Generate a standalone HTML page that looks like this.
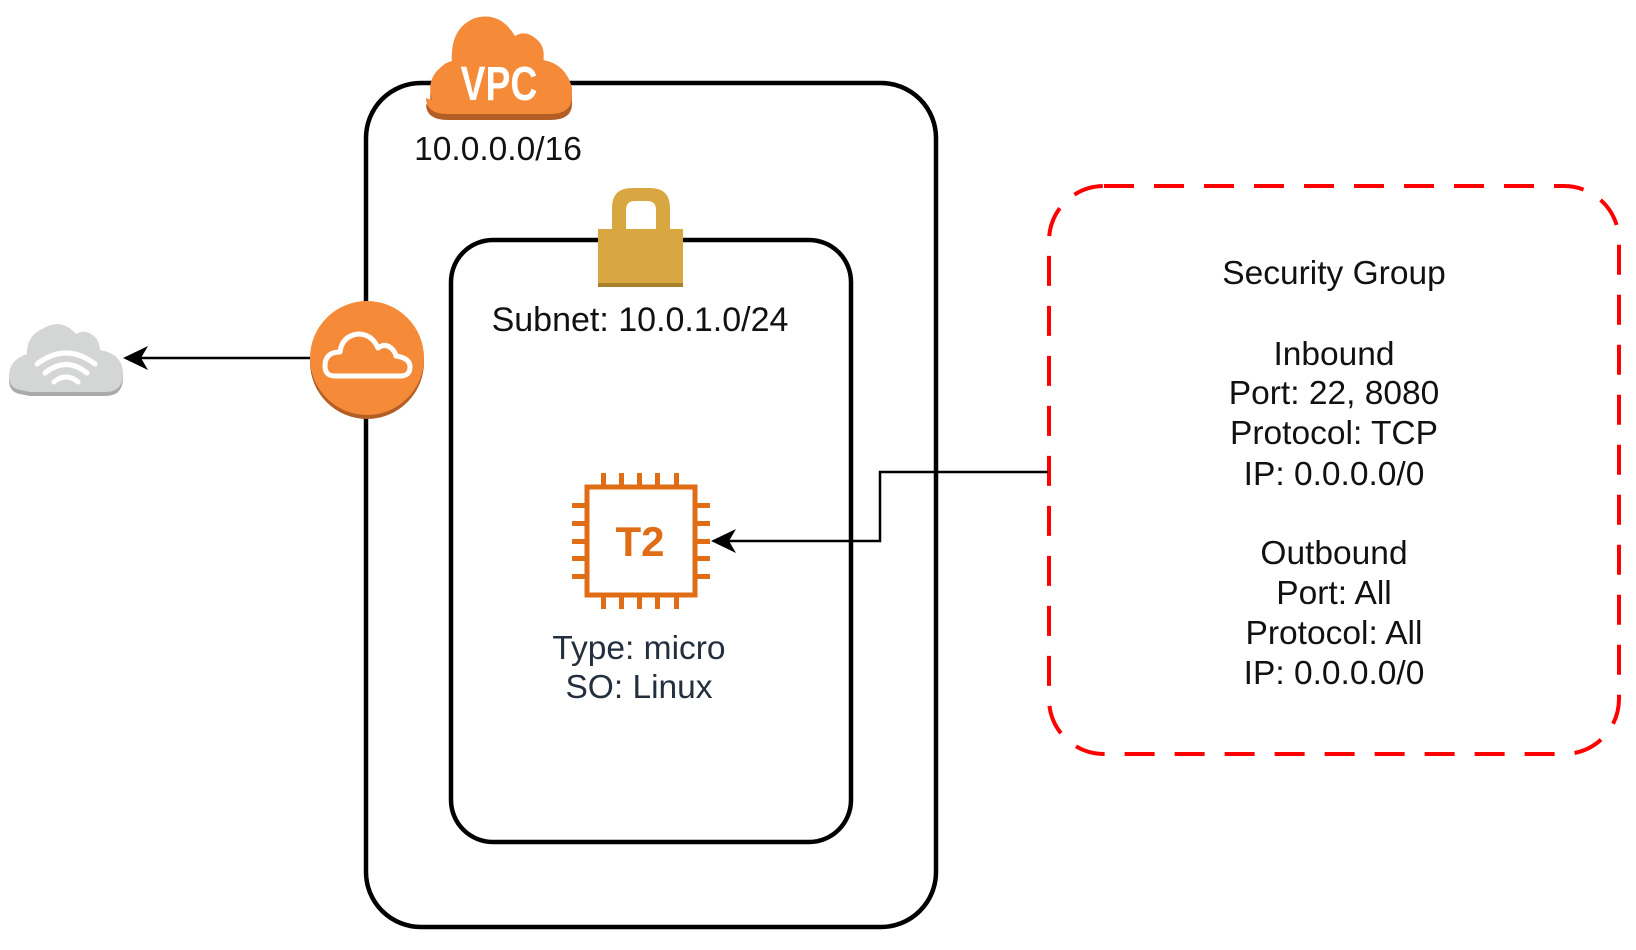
<!DOCTYPE html>
<html><head><meta charset="utf-8"><style>
html,body{margin:0;padding:0;background:#fff;}
svg{display:block;}
text{font-family:"Liberation Sans",Arial,sans-serif;}
</style></head><body>
<svg width="1636" height="950" viewBox="0 0 1636 950" xmlns="http://www.w3.org/2000/svg">
<!-- VPC box -->
<rect x="366" y="83" width="570" height="844" rx="55" fill="none" stroke="#000" stroke-width="4.5"/>
<!-- Subnet box -->
<rect x="451" y="240" width="400" height="602" rx="42" fill="none" stroke="#000" stroke-width="4.5"/>
<!-- Security group -->
<rect x="1049" y="186" width="570" height="568" rx="55" fill="none" stroke="#f00" stroke-width="4" stroke-dasharray="30,20"/>

<!-- VPC cloud -->
<g>
<path d="M432,108 Q426,84 440,72 Q446,64 452,63 Q450,30 475,20 Q500,13 515,38 Q525,32 535,40 Q546,48 543,62 Q566,66 572,92 L572,104 Q572,120 550,120 L448,120 Q426,120 426,104 Z" fill="#b35e24"/>
<path d="M432,100 Q426,80 440,68 Q446,62 452,61 Q450,28 475,18 Q500,11 515,36 Q525,30 535,38 Q546,46 543,60 Q566,64 572,88 L572,96 Q572,114 550,114 L448,114 Q426,114 426,98 Z" fill="#f58a38"/>
<text x="499" y="100" text-anchor="middle" font-size="48" font-weight="bold" fill="#fff" transform="translate(499 0) scale(0.78 1) translate(-499 0)">VPC</text>
</g>
<text x="498" y="160" text-anchor="middle" font-size="33.5" fill="#111">10.0.0.0/16</text>

<!-- Lock -->
<path d="M612,229 L612,208 Q612,188 632,188 L650,188 Q670,188 670,208 L670,229 L656,229 L656,210 Q656,201 647,201 L635,201 Q626,201 626,210 L626,229 Z" fill="#d9a741"/>
<rect x="598" y="229" width="85" height="55" fill="#d9a741"/>
<rect x="598" y="283" width="85" height="4" fill="#a9802c"/>
<text x="640" y="331" text-anchor="middle" font-size="34" fill="#111">Subnet: 10.0.1.0/24</text>

<!-- Gateway -->
<circle cx="367" cy="362" r="57" fill="#b35e24"/>
<circle cx="367" cy="358" r="57" fill="#f58a38"/>
<path d="M335,376 Q325,376 325,366 Q325,352 340,352 Q342,336 358,334 Q372,334 378,348 Q386,342 393,350 Q396,354 396,356 Q410,358 410,367 Q410,376 400,376 Z" fill="none" stroke="#fff" stroke-width="5" stroke-linejoin="round"/>

<!-- gray cloud -->
<g>
<path d="M20,394 Q9,392 9,380 Q9,362 27,356 Q26,338 44,330 Q62,320 76,336 Q86,330 96,340 Q100,346 100,352 Q123,356 123,378 Q123,396 105,396 L30,396 Z" fill="#a9aaab"/>
<path d="M20,390 Q9,388 9,376 Q9,360 27,354 Q26,336 44,328 Q62,318 76,334 Q86,328 96,338 Q100,344 100,350 Q123,354 123,374 Q123,392 105,392 L30,392 Z" fill="#d4d5d5"/>
<path d="M37,364 Q66,342 95,364" fill="none" stroke="#fff" stroke-width="5" stroke-linecap="round"/>
<path d="M45,373 Q66,356 87,373" fill="none" stroke="#fff" stroke-width="5" stroke-linecap="round"/>
<path d="M54,382 Q66,372 78,382" fill="none" stroke="#fff" stroke-width="5" stroke-linecap="round"/>
</g>
<!-- arrow to internet -->
<line x1="310" y1="358" x2="135" y2="358" stroke="#000" stroke-width="2.5"/>
<path d="M123,358 L148,346 L141,358 L148,370 Z" fill="#000"/>

<!-- chip -->
<g fill="#e06c16">
<rect x="587" y="487" width="108" height="108" fill="none" stroke="#e06c16" stroke-width="5"/>
<rect x="601" y="473" width="5" height="13"/><rect x="619" y="473" width="5" height="13"/><rect x="637" y="473" width="5" height="13"/><rect x="655" y="473" width="5" height="13"/><rect x="674" y="473" width="5" height="13"/>
<rect x="601" y="596" width="5" height="13"/><rect x="619" y="596" width="5" height="13"/><rect x="637" y="596" width="5" height="13"/><rect x="655" y="596" width="5" height="13"/><rect x="674" y="596" width="5" height="13"/>
<rect x="572" y="503" width="14" height="5"/><rect x="572" y="521" width="14" height="5"/><rect x="572" y="539" width="14" height="5"/><rect x="572" y="556" width="14" height="5"/><rect x="572" y="574" width="14" height="5"/>
<rect x="696" y="503" width="14" height="5"/><rect x="696" y="521" width="14" height="5"/><rect x="696" y="539" width="14" height="5"/><rect x="696" y="556" width="14" height="5"/><rect x="696" y="574" width="14" height="5"/>
</g>
<text x="640" y="556" text-anchor="middle" font-size="42" font-weight="bold" fill="#e06c16">T2</text>
<text x="639" y="659" text-anchor="middle" font-size="33.5" fill="#232f3e">Type: micro</text>
<text x="639" y="698" text-anchor="middle" font-size="33.5" fill="#232f3e">SO: Linux</text>

<!-- connector -->
<polyline points="1048,472 880,472 880,541 722,541" fill="none" stroke="#000" stroke-width="2.5"/>
<path d="M711,541 L736,529 L729,541 L736,553 Z" fill="#000"/>

<!-- SG text -->
<g font-size="33.5" fill="#111" text-anchor="middle">
<text x="1334" y="284">Security Group</text>
<text x="1334" y="365">Inbound</text>
<text x="1334" y="404">Port: 22, 8080</text>
<text x="1334" y="444">Protocol: TCP</text>
<text x="1334" y="485">IP: 0.0.0.0/0</text>
<text x="1334" y="564">Outbound</text>
<text x="1334" y="604">Port: All</text>
<text x="1334" y="644">Protocol: All</text>
<text x="1334" y="684">IP: 0.0.0.0/0</text>
</g>
</svg>
</body></html>
